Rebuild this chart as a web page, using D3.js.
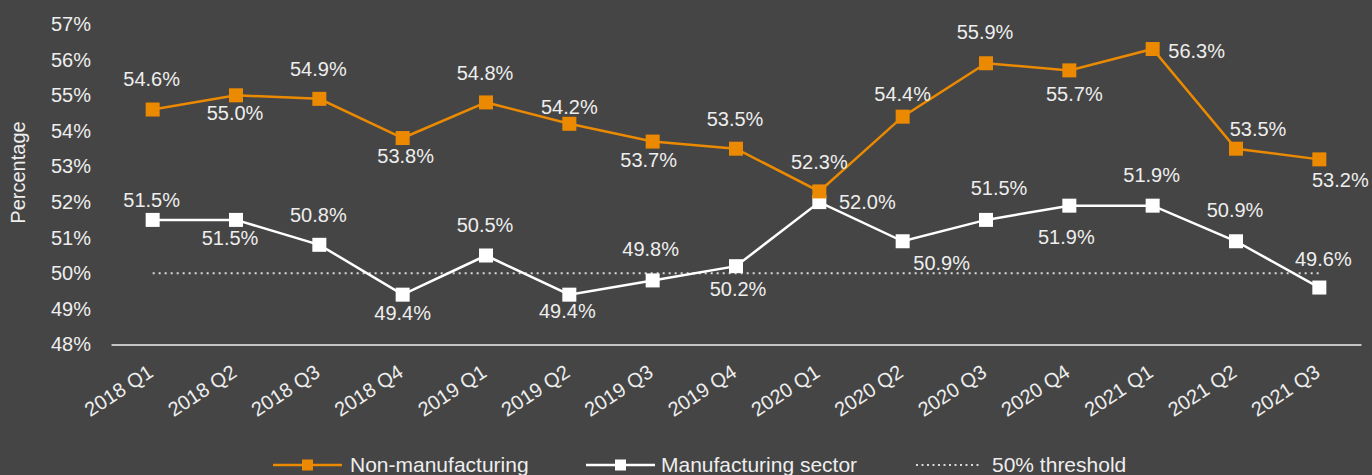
<!DOCTYPE html>
<html>
<head>
<meta charset="utf-8">
<script src="https://cdn.jsdelivr.net/npm/d3@7/dist/d3.min.js"></script>
<style>
  html, body { margin: 0; padding: 0; background: #454545; }
  svg { display: block; }
  text { font-family: "Liberation Sans", Arial, sans-serif; }
</style>
</head>
<body>
<svg id="chart" width="1372" height="475"></svg>
<script>
// Quarterly survey readings, in percent
const quarters = ["2018 Q1", "2018 Q2", "2018 Q3", "2018 Q4", "2019 Q1", "2019 Q2", "2019 Q3", "2019 Q4",
                  "2020 Q1", "2020 Q2", "2020 Q3", "2020 Q4", "2021 Q1", "2021 Q2", "2021 Q3"];
const nonManufacturing = [54.6, 55.0, 54.9, 53.8, 54.8, 54.2, 53.7, 53.5, 52.3, 54.4, 55.9, 55.7, 56.3, 53.5, 53.2];
const manufacturing    = [51.5, 51.5, 50.8, 49.4, 50.5, 49.4, 49.8, 50.2, 52.0, 50.9, 51.5, 51.9, 51.9, 50.9, 49.6];
const threshold = 50;
const yTicks = [48, 49, 50, 51, 52, 53, 54, 55, 56, 57];
const seriesNames = ["Non-manufacturing", "Manufacturing sector", "50% threshold"];

// Value-label placement relative to each marker: [dx, dy to baseline]
const nonManLabelOffsets = [[-1, -24], [-1, 25], [-1, -23], [3, 25], [-1, -22], [0, -10], [-4, 25], [-1, -23],
                            [0, -22], [0, -16], [-1, -24], [5, 31], [44, 9], [22, -13], [21, 28]];
const manLabelOffsets    = [[-1, -13], [-6, 25], [-1, -23], [0, 25], [-1, -24], [-2, 23], [-2, -24], [2, 30],
                            [48, 7], [39, 29], [13, -25], [-3, 38], [-1, -24], [-1, -24], [4, -22]];

const colors = { nonMan: "#EB8A00", man: "#FFFFFF", text: "#EEEEEE", axis: "#C4C4C4", threshold: "#D9D9D9" };

const svg = d3.select("#chart");

const x = d3.scaleBand().domain(quarters).range([111, 1361]).padding(0);
const y = d3.scaleLinear().domain([48, 57]).range([344.5, 24.1]);
const cx = d => x(d) + x.bandwidth() / 2;

// Y axis (labels only)
const yAxis = svg.append("g").attr("transform", "translate(91,0)")
  .call(d3.axisLeft(y).tickValues(yTicks).tickSize(0).tickPadding(0).tickFormat(d => d + "%"));
yAxis.select(".domain").remove();
yAxis.selectAll("text").attr("fill", colors.text).style("font-size", "20px")
  .style("font-family", "'Liberation Sans', Arial, sans-serif");

// Y axis title
svg.append("text")
  .attr("transform", "translate(25,172.5) rotate(-90)")
  .attr("text-anchor", "middle")
  .attr("fill", colors.text).style("font-size", "20px")
  .text("Percentage");

// X axis baseline and rotated category labels
const xAxis = svg.append("g").attr("transform", "translate(0,344.5)")
  .call(d3.axisBottom(x).tickSize(0).tickPadding(0));
xAxis.select(".domain").attr("stroke", colors.axis).attr("stroke-width", 2);
xAxis.selectAll(".tick text")
  .attr("fill", colors.text).style("font-size", "20px")
  .style("font-family", "'Liberation Sans', Arial, sans-serif")
  .attr("text-anchor", "end")
  .attr("dy", 0).attr("y", 0)
  .attr("transform", "translate(2,31) rotate(-33)");

// 50% threshold
svg.append("line")
  .attr("x1", cx(quarters[0])).attr("x2", cx(quarters[quarters.length - 1]))
  .attr("y1", y(threshold)).attr("y2", y(threshold))
  .attr("stroke", colors.threshold).attr("stroke-width", 2)
  .attr("stroke-dasharray", "2,4");

function drawSeries(values, color, offsets) {
  const pts = values.map((v, i) => ({ q: quarters[i], v, off: offsets[i] }));
  const line = d3.line().x(d => cx(d.q)).y(d => y(d.v));
  svg.append("path").datum(pts)
    .attr("d", line).attr("fill", "none")
    .attr("stroke", color).attr("stroke-width", 2.5);
  const s = 14;
  svg.append("g").selectAll("rect").data(pts).join("rect")
    .attr("x", d => cx(d.q) - s / 2).attr("y", d => y(d.v) - s / 2)
    .attr("width", s).attr("height", s).attr("fill", color);
  return pts;
}

function drawLabels(pts) {
  svg.append("g").selectAll("text").data(pts).join("text")
    .attr("x", d => cx(d.q) + d.off[0]).attr("y", d => y(d.v) + d.off[1])
    .attr("text-anchor", "middle")
    .attr("fill", colors.text).style("font-size", "20px")
    .text(d => d.v.toFixed(1) + "%");
}

const manPts = drawSeries(manufacturing, colors.man, manLabelOffsets);
const nonPts = drawSeries(nonManufacturing, colors.nonMan, nonManLabelOffsets);
drawLabels(nonPts);
drawLabels(manPts);

// Legend
const legend = svg.append("g");
const ly = 465;
const legendItems = [
  { name: seriesNames[0], color: colors.nonMan, x0: 273, x1: 342, tx: 350, marker: true, dash: null },
  { name: seriesNames[1], color: colors.man, x0: 586, x1: 655, tx: 661, marker: true, dash: null },
  { name: seriesNames[2], color: colors.threshold, x0: 916, x1: 980, tx: 992, marker: false, dash: "2,3.5" }
];
legendItems.forEach(it => {
  legend.append("line").attr("x1", it.x0).attr("x2", it.x1).attr("y1", ly).attr("y2", ly)
    .attr("stroke", it.color).attr("stroke-width", it.dash ? 2 : 2.5)
    .attr("stroke-dasharray", it.dash);
  if (it.marker) {
    legend.append("rect").attr("x", (it.x0 + it.x1) / 2 - 5.5).attr("y", ly - 5.5)
      .attr("width", 11).attr("height", 11).attr("fill", it.color);
  }
  legend.append("text").attr("x", it.tx).attr("y", ly + 7)
    .attr("fill", colors.text).style("font-size", "21px").text(it.name);
});
</script>
</body>
</html>
